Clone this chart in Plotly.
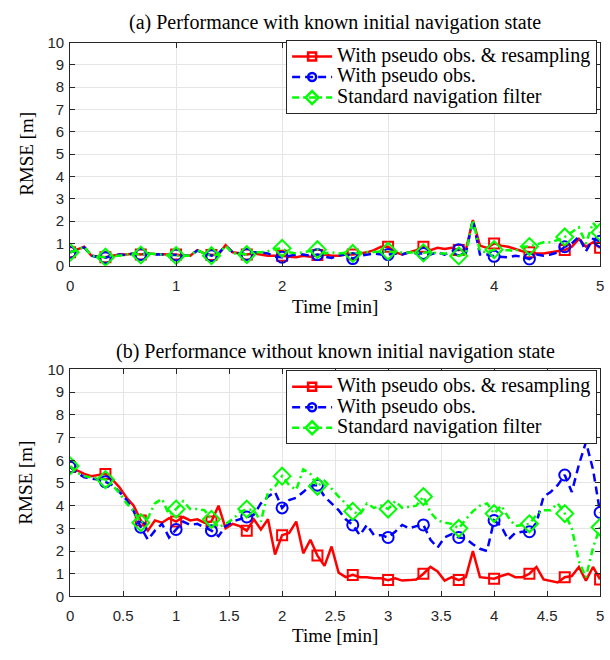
import plotly.graph_objects as go

# time stamps [min]
time_min = [i / 15 for i in range(76)]

# (a) known initial navigation state
a_resampling = [0.60, 0.72, 0.85, 0.45, 0.40, 0.38, 0.45, 0.50, 0.50, 0.55,
                0.50, 0.55, 0.52, 0.50, 0.50, 0.50, 0.45, 0.45, 0.70, 0.55,
                0.48, 0.50, 0.92, 0.60, 0.55, 0.50, 0.55, 0.50, 0.45, 0.45,
                0.45, 0.40, 0.38, 0.45, 0.40, 0.48, 0.50, 0.45, 0.45, 0.50,
                0.50, 0.55, 0.60, 0.70, 0.85, 0.85, 0.60, 0.50, 0.60, 0.70,
                0.85, 0.70, 0.80, 0.75, 0.80, 0.70, 0.70, 2.05, 0.90, 0.80,
                1.00, 0.90, 0.85, 0.75, 0.65, 0.60, 0.55, 0.55, 0.60, 0.65,
                0.70, 0.85, 1.20, 0.85, 1.05, 0.80]
a_pseudo = [0.60, 0.70, 0.82, 0.45, 0.38, 0.36, 0.45, 0.50, 0.48, 0.55,
            0.50, 0.55, 0.50, 0.50, 0.50, 0.48, 0.45, 0.45, 0.68, 0.55,
            0.45, 0.55, 0.90, 0.60, 0.55, 0.50, 0.60, 0.60, 0.55, 0.40,
            0.38, 0.45, 0.50, 0.50, 0.45, 0.50, 0.40, 0.35, 0.45, 0.50,
            0.32, 0.45, 0.50, 0.55, 0.50, 0.50, 0.55, 0.50, 0.60, 0.55,
            0.55, 0.50, 0.60, 0.50, 0.65, 0.72, 0.55, 2.05, 0.50, 0.50,
            0.42, 0.40, 0.37, 0.45, 0.40, 0.30, 0.50, 0.45, 0.50, 0.60,
            0.85, 1.00, 1.30, 0.65, 1.20, 1.10]
a_standard = [0.60, 0.70, 0.85, 0.45, 0.40, 0.38, 0.45, 0.45, 0.50, 0.55,
              0.48, 0.55, 0.52, 0.50, 0.45, 0.45, 0.45, 0.45, 0.70, 0.55,
              0.45, 0.50, 0.90, 0.55, 0.55, 0.50, 0.60, 0.60, 0.65, 0.75,
              0.78, 0.60, 0.55, 0.60, 0.65, 0.72, 0.55, 0.60, 0.55, 0.58,
              0.55, 0.60, 0.62, 0.62, 0.62, 0.65, 0.60, 0.60, 0.60, 0.58,
              0.58, 0.62, 0.55, 0.55, 0.50, 0.44, 0.55, 2.05, 0.65, 0.60,
              0.72, 0.65, 0.70, 0.65, 0.85, 0.86, 0.95, 1.05, 1.05, 1.15,
              1.29, 1.50, 1.72, 1.00, 1.93, 1.50]

# (b) without known initial navigation state
b_resampling = [5.70, 5.55, 5.40, 5.30, 5.35, 5.40, 5.15, 4.80, 4.35, 4.00,
                3.35, 2.90, 3.35, 3.25, 3.45, 3.30, 3.50, 3.35, 3.40, 3.25,
                3.30, 4.00, 3.00, 3.20, 3.10, 2.90, 3.40, 2.95, 3.40, 1.85,
                2.70, 2.80, 3.30, 1.90, 2.50, 1.80, 1.35, 2.20, 1.05, 0.85,
                0.95, 0.85, 0.85, 0.80, 0.80, 0.72, 0.80, 0.70, 0.72, 0.75,
                1.00, 1.30, 1.10, 0.70, 0.85, 0.72, 0.85, 2.00, 0.85, 0.80,
                0.78, 0.90, 1.00, 0.85, 0.85, 1.00, 1.30, 0.75, 0.70, 0.62,
                0.85, 0.90, 1.30, 0.70, 1.30, 0.75]
b_pseudo = [5.70, 5.45, 5.25, 5.20, 5.15, 5.05, 4.90, 4.60, 4.25, 3.75,
            3.05, 2.50, 2.90, 3.20, 2.60, 2.95, 3.30, 3.15, 3.20, 3.05,
            2.90, 2.65, 3.10, 3.30, 3.40, 3.50, 3.60, 4.10, 4.40, 4.60,
            3.90, 4.25, 4.35, 4.60, 4.90, 4.90, 4.40, 4.10, 3.80, 3.40,
            3.15, 2.70, 3.15, 2.70, 2.70, 2.60, 2.85, 3.15, 3.00, 3.10,
            3.15, 2.50, 2.15, 2.60, 2.75, 2.60, 2.55, 2.30, 2.10, 2.00,
            3.35, 3.10, 2.50, 2.80, 2.85, 2.85, 3.25, 4.40, 4.60, 4.90,
            5.35, 4.60, 5.80, 6.80, 5.60, 3.70]
b_standard = [5.75, 5.45, 5.30, 5.25, 5.20, 5.15, 4.90, 4.55, 4.10, 3.75,
              3.25, 3.45, 4.10, 4.30, 3.60, 3.85, 4.20, 3.85, 3.85, 3.80,
              3.40, 3.05, 3.20, 3.40, 3.70, 3.85, 3.80, 3.30, 4.60, 4.85,
              5.30, 4.90, 4.70, 5.60, 5.40, 4.85, 5.10, 4.75, 4.40, 4.10,
              3.75, 3.60, 4.10, 3.90, 4.00, 3.85, 4.20, 3.90, 3.95, 4.00,
              4.40, 3.70, 3.35, 3.25, 3.20, 3.00, 3.40, 3.75, 4.00, 4.10,
              3.65, 4.00, 3.50, 3.10, 3.15, 3.20, 3.60, 3.80, 3.80, 4.10,
              3.65, 3.00, 1.55, 0.85, 2.15, 3.05]

series_names = ["With pseudo obs. &amp; resampling", "With pseudo obs.",
                "Standard navigation filter"]
y_ticks = list(range(0, 11))
x_ticks_a = [0, 1, 2, 3, 4, 5]
x_ticks_b = [0, 0.5, 1, 1.5, 2, 2.5, 3, 3.5, 4, 4.5, 5]
x_tick_labels_b = ["0", "0.5", "1", "1.5", "2", "2.5", "3", "3.5", "4", "4.5", "5"]

styles = [
    dict(color="#ff0000", dash="solid", symbol="square-open", size=10, lsize=8),
    dict(color="#0000ff", dash="8px,5px", symbol="circle-open", size=11, lsize=8),
    dict(color="#00ff00", dash="7px,4px,2px,4px", symbol="diamond-open", size=13, lsize=10),
]
MARK_EVERY = 5
LEGEND_TEXT_PX = 20

fig = go.Figure()

def add_panel(values_list, xa, ya, legend_name):
    for vals, name, st in zip(values_list, series_names, styles):
        fig.add_trace(go.Scatter(
            x=time_min, y=vals, mode="lines", xaxis=xa, yaxis=ya,
            line=dict(color=st["color"], width=2.5, dash=st["dash"]),
            showlegend=False, hoverinfo="skip"))
        fig.add_trace(go.Scatter(
            x=time_min[::MARK_EVERY], y=vals[::MARK_EVERY], mode="markers",
            xaxis=xa, yaxis=ya,
            marker=dict(symbol=st["symbol"], size=st["size"], color=st["color"],
                        line=dict(width=2, color=st["color"])),
            showlegend=False, hoverinfo="skip"))
        fig.add_trace(go.Scatter(
            x=[None], y=[None], mode="lines+markers", xaxis=xa, yaxis=ya,
            name=f'<span style="font-size:{LEGEND_TEXT_PX}px">{name}</span>',
            legend=legend_name,
            line=dict(color=st["color"], width=2.5, dash=st["dash"]),
            marker=dict(symbol=st["symbol"], size=st["lsize"], color=st["color"],
                        line=dict(width=2.5, color=st["color"]))))

add_panel([a_resampling, a_pseudo, a_standard], "x", "y", "legend")
add_panel([b_resampling, b_pseudo, b_standard], "x2", "y2", "legend2")

W, H = 610, 660
L, R = 67, 604
top_a, bot_a = 34.5, 263.5
top_b, bot_b = 370, 603

axis_common = dict(
    showline=True, linecolor="#262626", linewidth=1, mirror="ticks",
    ticks="inside", ticklen=5, tickwidth=1, tickcolor="#262626",
    showgrid=True, gridcolor="#e5e5e5", gridwidth=1, zeroline=False,
    tickfont=dict(family="Liberation Sans, Arial", size=15, color="#262626"),
)

serif = "Liberation Serif, Times New Roman, serif"

legend_common = dict(
    xanchor="right", yanchor="top", bgcolor="white",
    bordercolor="#262626", borderwidth=1,
    font=dict(family=serif, size=13.5, color="black"),
    tracegroupgap=0, itemwidth=40,
)

fig.update_layout(
    width=W, height=H, margin=dict(l=0, r=0, t=0, b=0),
    paper_bgcolor="white", plot_bgcolor="white",
    xaxis=dict(domain=[L / W, R / W], range=[0, 5], tickvals=x_ticks_a,
               anchor="y", ticklabelstandoff=6, **axis_common),
    yaxis=dict(domain=[1 - bot_a / H, 1 - top_a / H], range=[0, 10],
               tickvals=y_ticks, anchor="x", ticklabelstandoff=2, **axis_common),
    xaxis2=dict(domain=[L / W, R / W], range=[0, 5], tickvals=x_ticks_b,
                ticktext=x_tick_labels_b, anchor="y2", ticklabelstandoff=6,
                **axis_common),
    yaxis2=dict(domain=[1 - bot_b / H, 1 - top_b / H], range=[0, 10],
                tickvals=y_ticks, anchor="x2", ticklabelstandoff=2, **axis_common),
    legend=dict(x=601 / W, y=1 - 32 / H, **legend_common),
    legend2=dict(x=601 / W, y=1 - 371 / H, **legend_common),
    showlegend=True,
)

ann = []
cx = (L + R) / 2 / W
def add_text(text, xpx, ypx, size, angle=0):
    ann.append(dict(text=text, x=xpx / W, y=1 - ypx / H, xref="paper",
                    yref="paper", xanchor="center", yanchor="middle",
                    showarrow=False, textangle=angle,
                    font=dict(family=serif, size=size, color="black")))

add_text("(a) Performance with known initial navigation state", cx * W, 14, 20)
add_text("(b) Performance without known initial navigation state", cx * W, 352, 20)
add_text("Time [min]", cx * W, 305, 19)
add_text("Time [min]", cx * W, 643, 19)
add_text("RMSE [m]", 22, (top_a + bot_a) / 2, 19, -90)
add_text("RMSE [m]", 22, (top_b + bot_b) / 2, 19, -90)
fig.update_layout(annotations=ann)

fig.write_html("out.html")
